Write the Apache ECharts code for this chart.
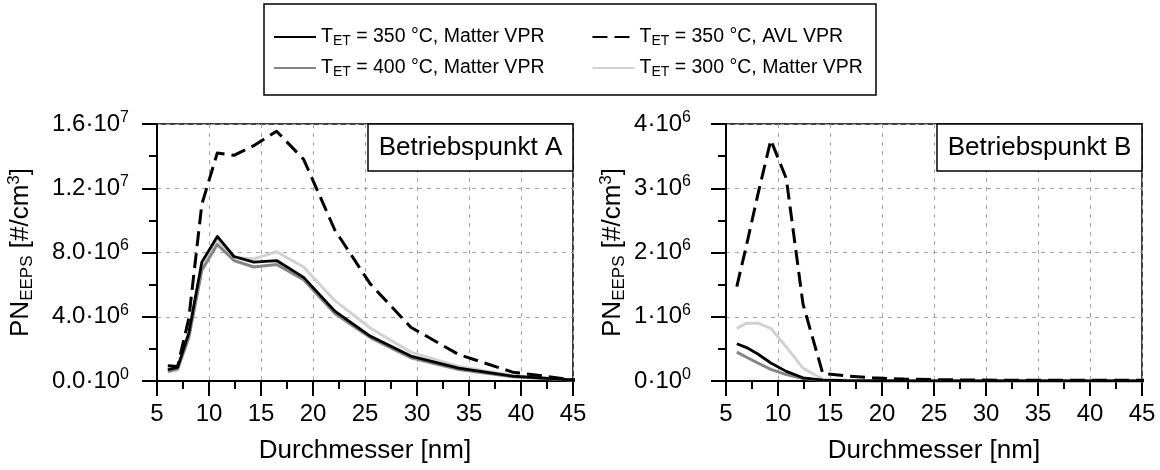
<!DOCTYPE html>
<html><head><meta charset="utf-8">
<script src="https://cdn.jsdelivr.net/npm/echarts@6/dist/echarts.min.js"></script>
<style>html,body{margin:0;padding:0;background:#fff}#c{width:1160px;height:470px}</style>
</head><body><div id="c"></div>
<script>
// EEPS size channels (nm)
const diameters = [6.04, 6.98, 8.06, 9.31, 10.8, 12.4, 14.3, 16.5, 19.1, 22.1, 25.5, 29.4, 34.0, 39.2, 45.3];

// Betriebspunkt A  (#/cm3)
const matter350A = [0.70e6, 0.85e6, 3.0e6, 7.4e6, 9.0e6, 7.75e6, 7.4e6, 7.5e6, 6.45e6, 4.35e6, 2.8e6, 1.55e6, 0.8e6, 0.3e6, 0.05e6];
const avl350A    = [0.95e6, 0.9e6, 3.9e6, 11.0e6, 14.2e6, 14.05e6, 14.65e6, 15.55e6, 13.8e6, 9.4e6, 6.05e6, 3.35e6, 1.65e6, 0.55e6, 0.05e6];
const matter400A = [0.60e6, 0.75e6, 2.7e6, 6.9e6, 8.5e6, 7.5e6, 7.1e6, 7.25e6, 6.3e6, 4.2e6, 2.7e6, 1.45e6, 0.72e6, 0.26e6, 0.04e6];
const matter300A = [0.55e6, 0.7e6, 2.8e6, 7.0e6, 8.75e6, 7.7e6, 7.6e6, 8.05e6, 7.1e6, 5.0e6, 3.3e6, 1.8e6, 0.9e6, 0.35e6, 0.06e6];

// Betriebspunkt B  (#/cm3)
const matter350B = [0.58e6, 0.52e6, 0.42e6, 0.28e6, 0.15e6, 0.05e6, 0.015e6, 0.005e6, 0.003e6, 0.002e6, 0.001e6, 0.001e6, 0.001e6, 0.001e6, 0.001e6];
const avl350B    = [1.47e6, 2.12e6, 2.9e6, 3.75e6, 3.15e6, 1.2e6, 0.12e6, 0.08e6, 0.05e6, 0.03e6, 0.02e6, 0.015e6, 0.01e6, 0.01e6, 0.01e6];
const matter400B = [0.45e6, 0.37e6, 0.28e6, 0.18e6, 0.1e6, 0.04e6, 0.01e6, 0.004e6, 0.002e6, 0.001e6, 0.001e6, 0.001e6, 0.001e6, 0.001e6, 0.001e6];
const matter300B = [0.82e6, 0.9e6, 0.9e6, 0.82e6, 0.53e6, 0.2e6, 0.03e6, 0.01e6, 0.005e6, 0.003e6, 0.002e6, 0.001e6, 0.001e6, 0.001e6, 0.001e6];

// tick labels
const yTickLabelsA = ['0.0·10^0', '4.0·10^6', '8.0·10^6', '1.2·10^7', '1.6·10^7'];
const yTickLabelsB = ['0·10^0', '1·10^6', '2·10^6', '3·10^6', '4·10^6'];

const seriesNames = ['T_ET = 350 °C, Matter VPR', 'T_ET = 350 °C, AVL VPR', 'T_ET = 400 °C, Matter VPR', 'T_ET = 300 °C, Matter VPR'];
const panelTitles = ['Betriebspunkt A', 'Betriebspunkt B'];

const FONT = '"Liberation Sans", Arial, Helvetica, sans-serif';
const chart = echarts.init(document.getElementById('c'), null, {renderer: 'canvas'});

function supLabel(s) { const p = s.split('^'); return p[0] + '{sup|' + p[1] + '}'; }
const richTick = {
  sup: {fontSize: 16, padding: [0, 0, 13, 0], fontFamily: FONT, color: '#000'}
};
const richName = {
  sub: {fontSize: 17, padding: [12, 0, 0, 0], fontFamily: FONT, color: '#000'},
  sup: {fontSize: 17, padding: [0, 0, 13, 0], fontFamily: FONT, color: '#000'}
};

const grids = [
  {left: 157, top: 124, width: 416, height: 257},
  {left: 726, top: 124, width: 416, height: 257}
].map(g => Object.assign(g, {show: true, borderColor: '#000', borderWidth: 1.5, backgroundColor: 'transparent'}));

function makeX(i) {
  return {
    type: 'value', gridIndex: i, min: 5, max: 45, interval: 5,
    axisLine: {show: true, onZero: false, lineStyle: {color: '#000', width: 2}},
    axisTick: {show: true, inside: false, length: 15, lineStyle: {color: '#000', width: 2}},
    minorTick: {show: true, splitNumber: 2, length: 8, lineStyle: {color: '#000', width: 2}},
    splitLine: {show: true, lineStyle: {color: '#a5a5a5', type: [4, 5], width: 1}},
    axisLabel: {color: '#000', fontSize: 24, fontFamily: FONT, margin: 21},
    name: 'Durchmesser [nm]', nameLocation: 'middle', nameGap: 57,
    nameTextStyle: {color: '#000', fontSize: 26, fontFamily: FONT}
  };
}
function makeY(i, max, interval, labels, gap, margin) {
  return {
    type: 'value', gridIndex: i, min: 0, max: max, interval: interval,
    axisLine: {show: true, onZero: false, lineStyle: {color: '#000', width: 2}},
    axisTick: {show: true, inside: false, length: 15, lineStyle: {color: '#000', width: 2}},
    minorTick: {show: true, splitNumber: 2, length: 8, lineStyle: {color: '#000', width: 2}},
    splitLine: {show: true, lineStyle: {color: '#a5a5a5', type: [4, 5], width: 1}},
    axisLabel: {color: '#000', fontSize: 24, fontFamily: FONT, margin: margin,
      formatter: v => supLabel(labels[Math.round(v / interval)]), rich: richTick},
    name: 'PN{sub|EEPS} [#/cm{sup|3}]', nameLocation: 'middle', nameGap: gap, nameRotate: 90,
    nameTextStyle: {color: '#000', fontSize: 26, fontFamily: FONT, rich: richName}
  };
}

const styles = [
  {color: '#000000', width: 2.8, type: 'solid', z: 5},
  {color: '#000000', width: 3, type: [15, 7], z: 4},
  {color: '#858585', width: 3, type: 'solid', z: 3},
  {color: '#d2d2d2', width: 3, type: 'solid', z: 2}
];
const dataA = [matter350A, avl350A, matter400A, matter300A];
const dataB = [matter350B, avl350B, matter400B, matter300B];

const series = [];
[dataA, dataB].forEach((set, gi) => {
  set.forEach((vals, si) => {
    const st = styles[si];
    series.push({
      type: 'line', name: seriesNames[si], xAxisIndex: gi, yAxisIndex: gi,
      data: diameters.map((d, k) => [d, vals[k]]),
      symbol: 'none', showSymbol: false, clip: true, z: st.z,
      lineStyle: {color: st.color, width: st.width, type: st.type, join: 'round'},
      itemStyle: {color: st.color},
      animation: false
    });
  });
});

const legendText = {color: '#000', fontSize: 19.5, fontFamily: FONT, rich: {
  sub: {fontSize: 14, padding: [9, 0, 0, 0], fontFamily: FONT, color: '#000'}
}};
function legendCfg(names, top) {
  return {
    data: names, left: 273, top: top, orient: 'horizontal', padding: 0,
    itemWidth: 42, itemHeight: 14, itemGap: 47, selectedMode: false,
    itemStyle: {opacity: 0},
    textStyle: legendText,
    formatter: n => n.replace('T_ET', 'T{sub|ET}')
  };
}

const graphic = [];
const boxes = [[368, 573], [937, 1142]];
boxes.forEach((b, i) => {
  graphic.push({type: 'rect', shape: {x: b[0], y: 124, width: b[1] - b[0], height: 47},
    style: {fill: '#fff', stroke: '#000', lineWidth: 1.5}, z: 100});
  graphic.push({type: 'text', x: (b[0] + b[1]) / 2, y: 148,
    style: {text: panelTitles[i], fill: '#000', font: '26px ' + FONT, textAlign: 'center', textVerticalAlign: 'middle'}, z: 101});
});
graphic.push({type: 'rect', shape: {x: 264, y: 4, width: 612, height: 91},
  style: {fill: 'none', stroke: '#000', lineWidth: 1.5}, z: 100});

chart.setOption({
  animation: false,
  backgroundColor: '#fff',
  grid: grids,
  xAxis: [makeX(0), makeX(1)],
  yAxis: [makeY(0, 1.6e7, 4e6, yTickLabelsA, 121, 28), makeY(1, 4e6, 1e6, yTickLabelsB, 98, 35)],
  legend: [legendCfg([seriesNames[0], seriesNames[1]], 27), legendCfg([seriesNames[2], seriesNames[3]], 58)],
  graphic: graphic,
  series: series
});
</script>
</body></html>
